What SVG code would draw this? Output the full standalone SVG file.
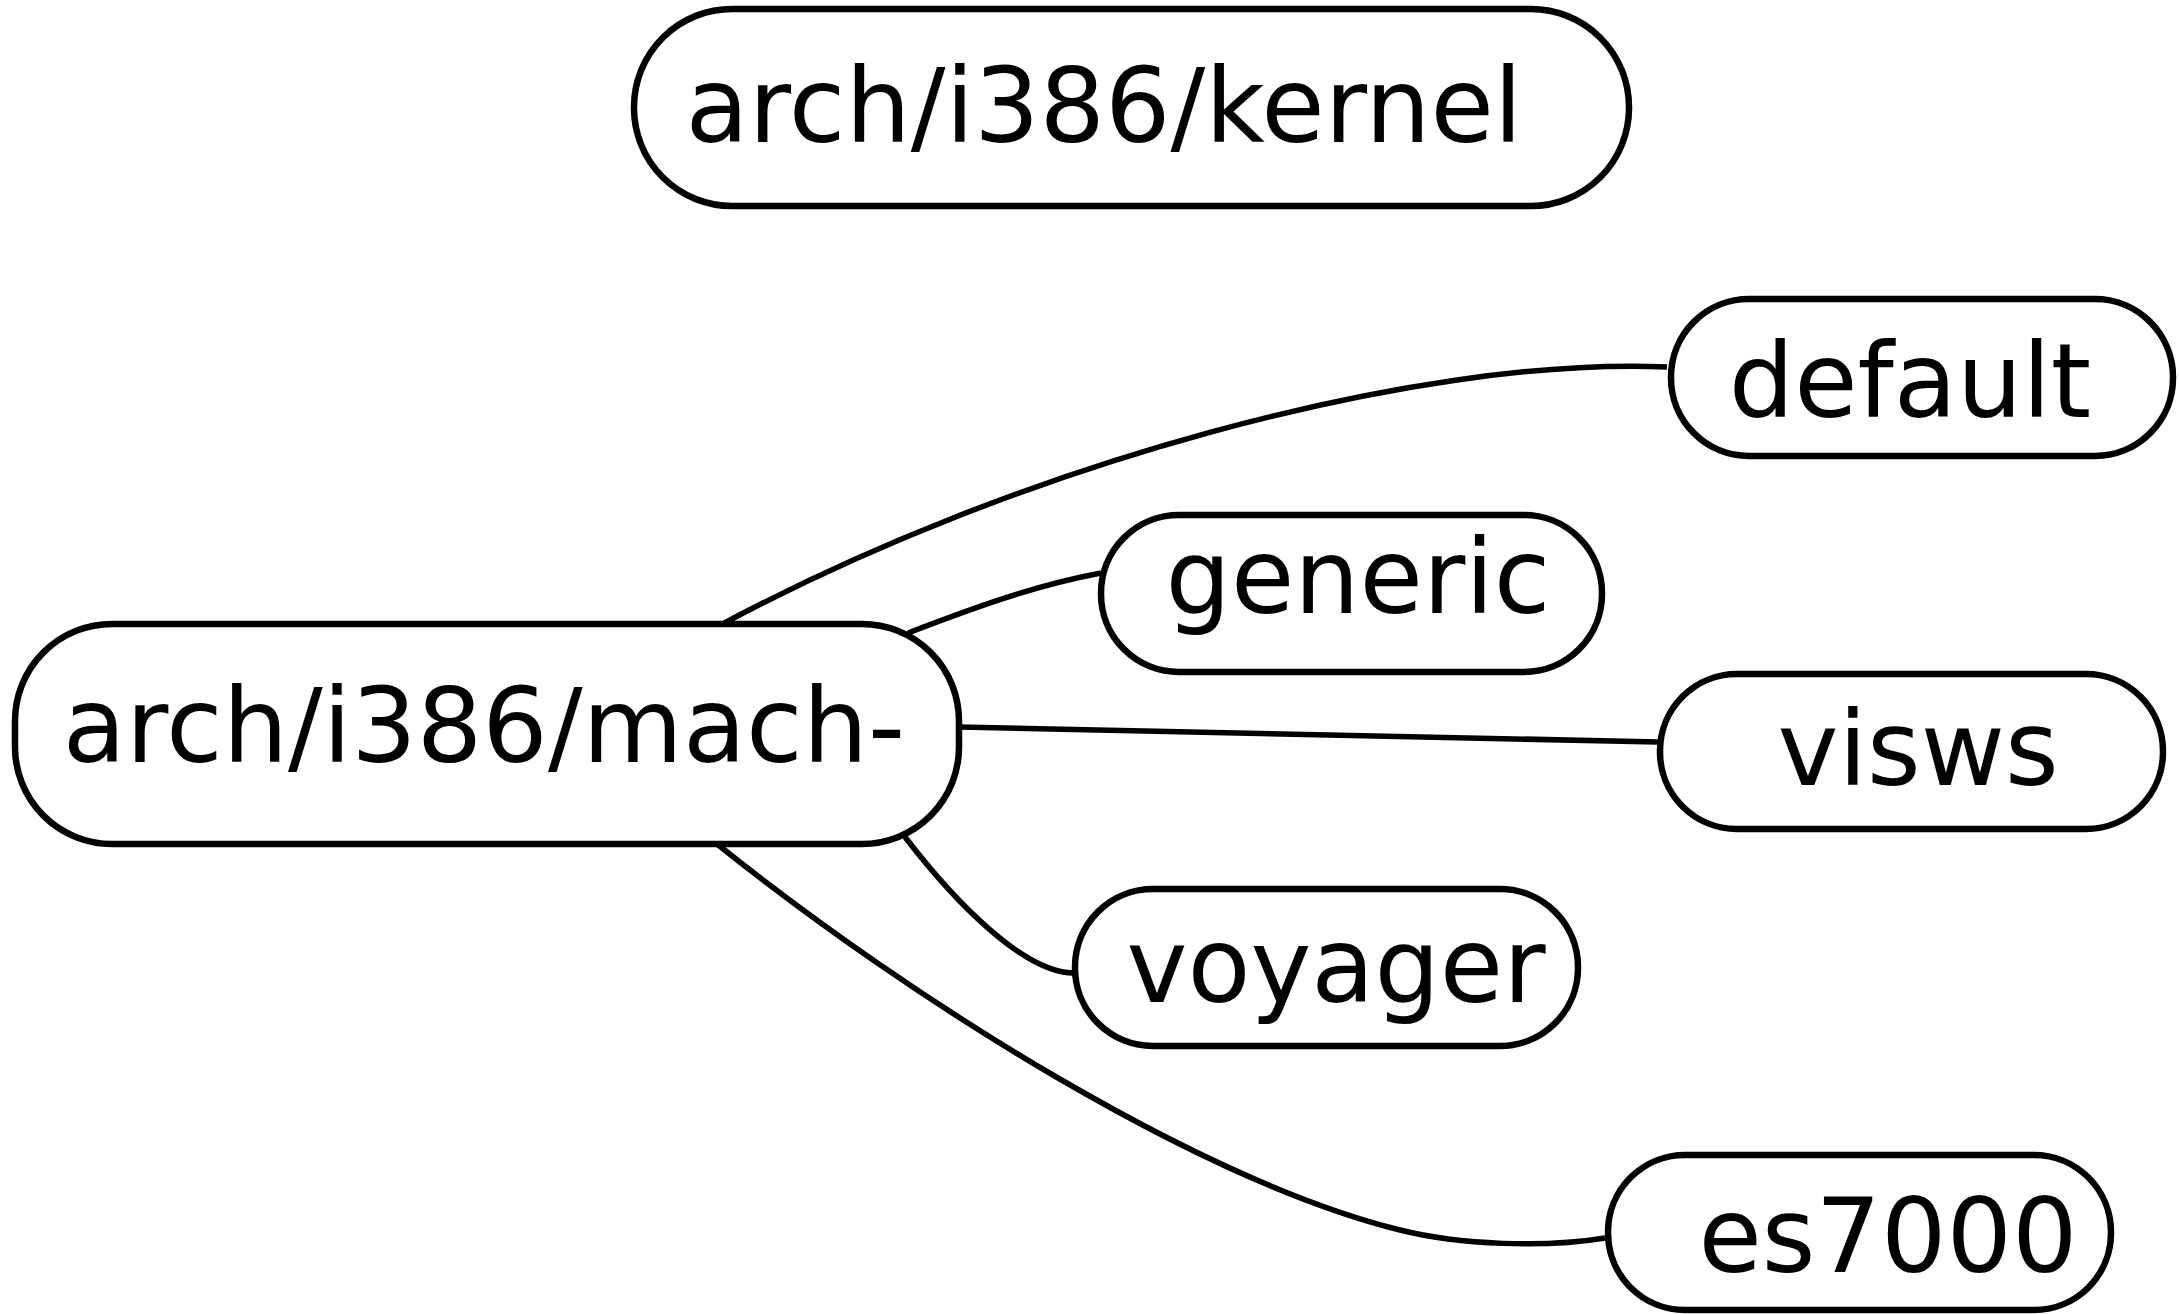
<svg xmlns="http://www.w3.org/2000/svg" width="2179" height="1314" viewBox="0 0 2179 1314">
<style>
.node rect{fill:#fff;stroke:#000;stroke-width:6.5}
.node text{font-family:"DejaVu Sans",sans-serif;font-size:103px;fill:#000;text-anchor:middle}
.edges path{fill:none;stroke:#000;stroke-width:5.5}
</style>
<rect width="2179" height="1314" fill="#fff"/>
<g class="edges" id="connectors">
<path d="M717,627 C1017,465 1417,356 1667,367"/>
<path d="M908,633 C973,608 1036,585 1101,573"/>
<path d="M959,727 L1658,742"/>
<path d="M905,837 C955,902 1024,973 1074,973"/>
<path d="M717,844 C917,1004 1200,1180 1400,1230 C1460,1245 1545,1248 1605,1238"/>
</g>
<g class="node" id="kernel"><rect x="634" y="9" width="995" height="197" rx="98"/><text x="1104" y="142">arch/i386/kernel</text></g>
<g class="node" id="mach"><rect x="15" y="624" width="944" height="220" rx="97"/><text x="484" y="762">arch/i386/mach-</text></g>
<g class="node" id="default"><rect x="1671" y="299" width="502" height="157" rx="78"/><text x="1910" y="417">default</text></g>
<g class="node" id="generic"><rect x="1101" y="515" width="501" height="157" rx="78"/><text x="1358" y="613">generic</text></g>
<g class="node" id="visws"><rect x="1660" y="674" width="503" height="155" rx="77"/><text x="1918" y="785">visws</text></g>
<g class="node" id="voyager"><rect x="1075" y="889" width="503" height="157" rx="78"/><text x="1336" y="1002">voyager</text></g>
<g class="node" id="es7000"><rect x="1608" y="1155" width="503" height="155" rx="77"/><text x="1888" y="1272">es7000</text></g>
</svg>
